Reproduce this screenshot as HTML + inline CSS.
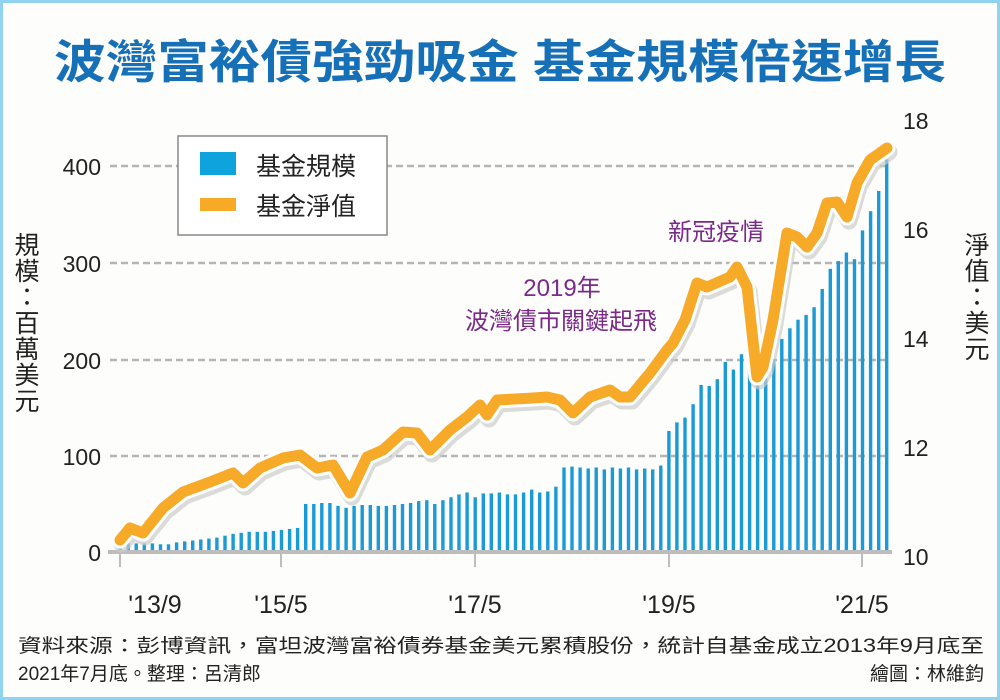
<!DOCTYPE html>
<html><head><meta charset="utf-8">
<style>
html,body{margin:0;padding:0;background:#fff;}
svg{display:block;}
text{font-family:"Liberation Sans","Noto Sans CJK TC",sans-serif;}
</style></head>
<body>
<svg id="s" width="1000" height="700" viewBox="0 0 1000 700" xmlns="http://www.w3.org/2000/svg">
<rect x="1.5" y="1.5" width="997" height="697" fill="#fdfdfb" stroke="#8fd3f0" stroke-width="3"/>
<text x="500" y="78" text-anchor="middle" font-size="46" font-weight="bold" fill="#1670b8" textLength="892" lengthAdjust="spacingAndGlyphs">波灣富裕債強勁吸金  基金規模倍速增長</text>
<g stroke="#b5b5b5" stroke-width="2.5" stroke-dasharray="7,4">
<line x1="110" y1="166" x2="890" y2="166"/>
<line x1="110" y1="263" x2="890" y2="263"/>
<line x1="110" y1="360" x2="890" y2="360"/>
<line x1="110" y1="456" x2="890" y2="456"/>
</g>
<g font-size="23" fill="#222" text-anchor="end">
<text x="101" y="175">400</text><text x="101" y="272">300</text><text x="101" y="369">200</text><text x="101" y="465">100</text><text x="101" y="561">0</text>
</g>
<g font-size="23" fill="#222">
<text x="903" y="129">18</text><text x="903" y="238">16</text><text x="903" y="347">14</text><text x="903" y="456">12</text><text x="903" y="565">10</text>
</g>
<g font-size="25" fill="#222" text-anchor="middle">
<text x="155" y="613">'13/9</text><text x="281" y="613">'15/5</text><text x="475" y="613">'17/5</text><text x="669" y="613">'19/5</text><text x="862" y="613">'21/5</text>
</g>
<text font-size="25" fill="#222" writing-mode="tb" x="25" y="232" letter-spacing="1">規模：百萬美元</text>
<text font-size="25" fill="#222" writing-mode="tb" x="975" y="232" letter-spacing="1">淨值：美元</text>
<g id="bars" fill="#1a9ad6"></g>
<line x1="108" y1="552" x2="892" y2="552" stroke="#bdbdbd" stroke-width="4"/>
<g stroke="#bdbdbd" stroke-width="2">
<line x1="120" y1="552" x2="120" y2="567"/><line x1="281" y1="552" x2="281" y2="567"/><line x1="475" y1="552" x2="475" y2="567"/><line x1="669" y1="552" x2="669" y2="567"/><line x1="862" y1="552" x2="862" y2="567"/>
</g>
<g id="line"></g>
<rect x="178" y="136" width="209" height="99" fill="#fff" stroke="#888" stroke-width="1.5"/>
<rect x="200" y="152" width="36" height="23" fill="#0ea3dc"/>
<rect x="200" y="198" width="36" height="13" fill="#f7a928"/>
<text x="256" y="175" font-size="25" fill="#222">基金規模</text>
<text x="256" y="215" font-size="25" fill="#222">基金淨值</text>
<g fill="#7b2a8a" font-size="24">
<text x="668" y="240">新冠疫情</text>
<text x="562" y="296" text-anchor="middle">2019年</text>
<text x="561" y="329" text-anchor="middle">波灣債市關鍵起飛</text>
</g>
<g font-size="19" fill="#222">
<text x="18" y="652" textLength="966" lengthAdjust="spacingAndGlyphs">資料來源：彭博資訊，富坦波灣富裕債券基金美元累積股份，統計自基金成立2013年9月底至</text>
<text x="18" y="680">2021年7月底。整理：呂清郎</text>
<text x="984" y="680" text-anchor="end">繪圖：林維鈞</text>
</g>
</svg>
<script>
var v=[8,9,9,9,9,8,8,10,11,12,13,14,15,17,19,20,21,21,21,22,23,24,25,
50,50,51,51,48,46,48,49,49,48,48,49,50,51,53,54,50,54,
57,60,62,57,61,61,62,60,60,62,65,62,63,68,
88,89,88,87,88,86,88,87,88,86,87,86,90,
126,135,140,154,174,173,180,198,190,206,216,195,181,201,222,233,242,247,255,274,295,303,312,305,335,355,376,409];
var ns="http://www.w3.org/2000/svg",g=document.getElementById('bars');
for(var i=0;i<v.length;i++){var r=document.createElementNS(ns,'rect');var x=120+8.07*i;var h=v[i]*0.96;
r.setAttribute('x',(x-1.6).toFixed(1));r.setAttribute('y',(552-h).toFixed(1));r.setAttribute('width','3.4');r.setAttribute('height',h.toFixed(1));g.appendChild(r);}
var pts="120,540 130,528 143,533 163,508 183,492 210,482 233,473 243,483 260,468 283,458 300,455 317,468 333,465 350,493 367,457 383,450 403,432 417,433 430,450 450,430 467,417 480,405 487,415 497,400 533,398 547,397 560,400 573,413 590,397 610,390 620,397 630,397 650,373 667,350 673,343 685,320 697,283 707,287 730,277 737,267 747,287 757,377 763,367 773,320 787,233 797,237 807,247 817,233 827,203 837,202 847,217 857,183 870,160 887,148";
var L=document.getElementById('line');
L.innerHTML='<polyline points="'+pts+'" transform="translate(2,4)" fill="none" stroke="#ccc" stroke-width="17" stroke-linejoin="round" stroke-linecap="round" opacity="0.7"/>'+
'<polyline points="'+pts+'" fill="none" stroke="#fff" stroke-width="17" stroke-linejoin="round" stroke-linecap="round"/>'+
'<polyline points="'+pts+'" fill="none" stroke="#f7a928" stroke-width="11" stroke-linejoin="round" stroke-linecap="round"/>';
</script>
</body></html>
